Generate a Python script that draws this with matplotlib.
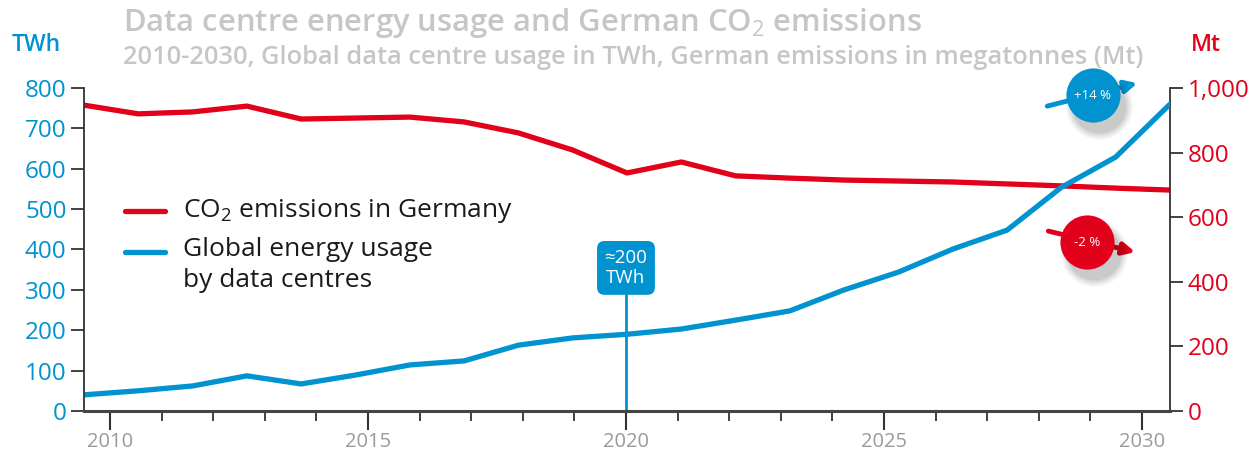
""" data centre energy usage vs German CO2 emissions
"""
import matplotlib.pyplot as plt

years = list(range(2010, 2031))
data_centres_twh = [40, 50, 62, 87, 67, 89, 114, 124, 163, 181, 190,
                    203, 225, 248, 300, 344, 401, 448, 554, 629, 760]
co2_germany_mt = [947, 920, 926, 944, 904, 907, 910, 895, 861, 808, 737,
                  771, 728, 721, 715, 712, 709, 703, 697, 690, 684]
twh_ticks = [0, 100, 200, 300, 400, 500, 600, 700, 800]
mt_ticks = [0, 200, 400, 600, 800, 1000]
label_years = [2010, 2015, 2020, 2025, 2030]
minor_years = list(range(2010, 2031))

BLUE = '#0093d0'
RED = '#e2001a'
GREY = '#c6c6c6'

plt.rcParams['font.family'] = ['Open Sans', 'DejaVu Sans']
plt.rcParams['mathtext.fontset'] = 'custom'
plt.rcParams['mathtext.rm'] = 'Open Sans'
plt.rcParams['mathtext.bf'] = 'Open Sans:bold'


# the year labels sit slightly inside the plotted range
def to_label(d):
    return 2010 + ((d - 2010) * 54.3 - 26) / 51.6


def to_data(l):
    return 2010 + ((l - 2010) * 51.6 + 26) / 54.3


fig = plt.figure(figsize=(12.59, 4.57), dpi=100)
ax = fig.add_axes([0.0667, 0.1007, 0.8626, 0.7067])
ax2 = ax.twinx()
ax.set_zorder(ax2.get_zorder() + 1)
ax.patch.set_visible(False)

ax2.plot(years, co2_germany_mt, color=RED, lw=3.8, solid_capstyle='round', solid_joinstyle='round')
ax.plot(years, data_centres_twh, color=BLUE, lw=3.8, solid_capstyle='round', solid_joinstyle='round')

ax.set_xlim(years[0], years[-1])
ax.set_ylim(0, 800)
ax2.set_ylim(0, 1000)

ax.set_yticks(twh_ticks)
ax.set_yticklabels([str(t) for t in twh_ticks])
ax2.set_yticks(mt_ticks)
ax2.set_yticklabels([f'{t:,}' for t in mt_ticks])

ax.spines['top'].set_visible(False)
ax2.spines['top'].set_visible(False)
ax.spines['right'].set_visible(False)
ax2.spines['left'].set_visible(False)
ax2.spines['bottom'].set_visible(False)
ax.spines['left'].set_color('#333333')
ax.spines['left'].set_linewidth(1.3)
ax2.spines['right'].set_color('#333333')
ax2.spines['right'].set_linewidth(1.3)
ax.spines['bottom'].set_color('#444444')
ax.spines['bottom'].set_linewidth(2.2)

ax.tick_params(axis='y', colors='#333333', labelcolor=BLUE, labelsize=17.5,
               length=9.5, width=1.3, pad=3)
ax2.tick_params(axis='y', colors='#333333', labelcolor=RED, labelsize=17.5,
                length=9.5, width=1.3, pad=3)
ax.tick_params(axis='x', bottom=False, labelbottom=False)

secx = ax.secondary_xaxis('bottom', functions=(to_label, to_data))
secx.spines['bottom'].set_visible(False)
secx.set_xticks(label_years)
secx.set_xticks(minor_years, minor=True)
secx.set_xticklabels([str(y) for y in label_years])
secx.tick_params(axis='x', which='major', length=14, width=1.5, colors='#333333',
                 labelcolor='#9a9a9a', labelsize=14.5, pad=1)
secx.tick_params(axis='x', which='minor', length=7, width=1.3, colors='#333333')

# header
fig.text(0.0977, 0.950, 'Data centre energy usage and German CO$_2$ emissions',
         color=GREY, fontsize=22.3, fontweight='semibold', va='center')
fig.text(0.0977, 0.875, '2010-2030, Global data centre usage in TWh, German emissions in megatonnes (Mt)',
         color=GREY, fontsize=18.3, fontweight='semibold', va='center')
fig.text(0.0286, 0.902, 'TWh', color=BLUE, fontsize=16.5, fontweight='semibold', ha='center', va='center')
fig.text(0.958, 0.902, 'Mt', color=RED, fontsize=16.5, fontweight='semibold', ha='center', va='center')

# legend
ax.plot([0.038, 0.075], [0.619, 0.619], color=RED, lw=3.8, transform=ax.transAxes, solid_capstyle='round')
ax.plot([0.038, 0.075], [0.492, 0.492], color=BLUE, lw=3.8, transform=ax.transAxes, solid_capstyle='round')
ax.text(0.091, 0.619, 'CO$_2$ emissions in Germany', transform=ax.transAxes,
        fontsize=19, color='#1a1a1a', va='center')
ax.text(0.091, 0.538, 'Global energy usage\nby data centres', transform=ax.transAxes,
        fontsize=19, color='#1a1a1a', va='top', linespacing=1.3)

# marker for 2020
x2020 = to_data(2020)
ax.axvline(x2020, ymin=0, ymax=0.37, color=BLUE, lw=2)
ax.text(x2020, 0.443, '\u2248200\nTWh', transform=ax.get_xaxis_transform(), ha='center', va='center',
        color='white', fontsize=13.5, linespacing=1.2,
        bbox=dict(boxstyle='round,pad=0.4,rounding_size=0.4', fc=BLUE, ec='none'))

# growth bubbles
bubbles = [((0.929, 0.978), (0.887, 0.944), (0.970, 1.015), BLUE, '+14 %'),
           ((0.924, 0.523), (0.888, 0.557), (0.968, 0.492), RED, '-2 %')]
for (cx, cy), start, end, col, txt in bubbles:
    ax.annotate('', xy=end, xytext=start, xycoords='axes fraction', textcoords='axes fraction',
                arrowprops=dict(arrowstyle='-|>,head_length=0.7,head_width=0.35', color=col,
                                lw=3.5, shrinkA=0, shrinkB=0),
                annotation_clip=False, zorder=5)
    for k, a in enumerate([0.04, 0.05, 0.06, 0.07]):
        ax.plot(cx + 0.006, cy - 0.035, 'o', ms=48 - 3 * k, color='black', alpha=a, mec='none',
                transform=ax.transAxes, clip_on=False, zorder=6)
    ax.plot(cx, cy, 'o', ms=39, color=col, mec='none', transform=ax.transAxes,
            clip_on=False, zorder=7)
    ax.text(cx, cy, txt, transform=ax.transAxes, ha='center', va='center', color='white',
            fontsize=9.5, zorder=8)

fig.savefig('out.png', dpi=100)
